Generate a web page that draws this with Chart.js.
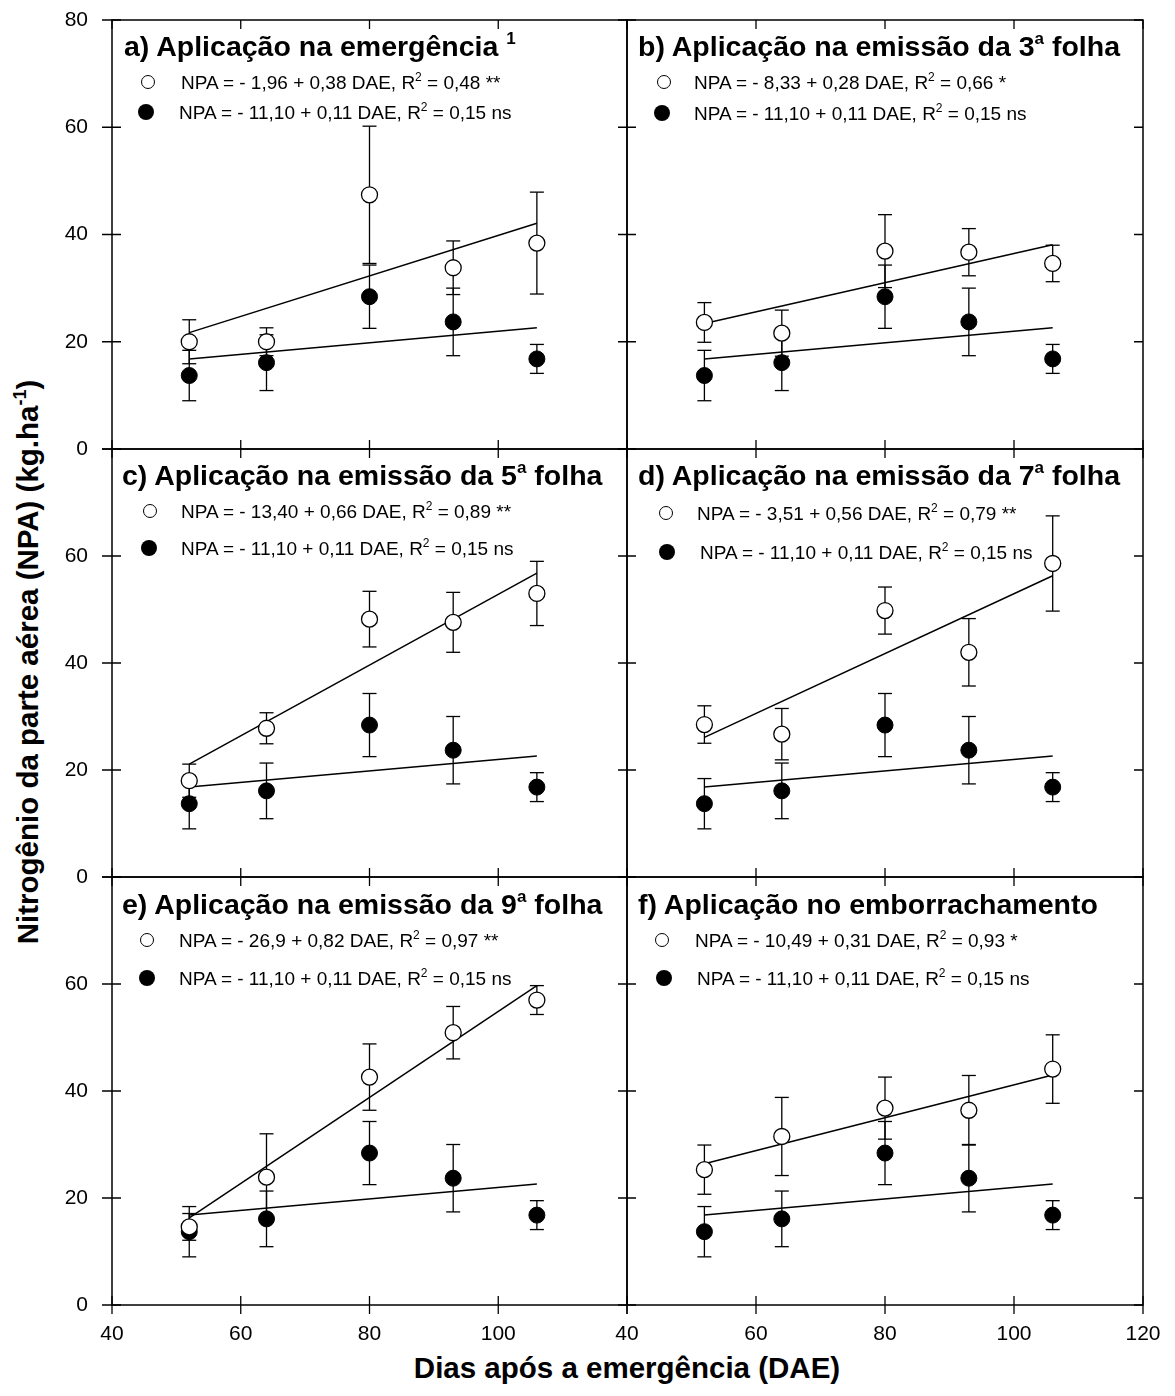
<!DOCTYPE html>
<html>
<head>
<meta charset="utf-8">
<script src="https://cdn.jsdelivr.net/npm/chart.js@4.4.1/dist/chart.umd.min.js"></script>
<style>
  body { margin: 0; background: #fff; width: 1175px; height: 1396px; position: relative; overflow: hidden;
         font-family: "Liberation Sans", Arial, sans-serif; color: #000; }
  canvas { position: absolute; }
  .t { position: absolute; white-space: nowrap; transform: translateY(-50%); line-height: 1; }
  .title { font-weight: bold; font-size: 28.5px; }
  .title sup { font-size: 17px; vertical-align: 12px; line-height: 0; }
  .leg { font-size: 19px; }
  .leg sup { font-size: 12px; vertical-align: 8px; line-height: 0; }
  .mk { position: absolute; border-radius: 50%; box-sizing: border-box; }
  .axt { position: absolute; font-weight: bold; font-size: 29.5px; white-space: nowrap; line-height: 1; }
  .axt sup { font-size: 18px; vertical-align: 12px; line-height: 0; }
</style>
</head>
<body>

<div class="axt" style="left:627px;top:1368px;transform:translate(-50%,-50%)">Dias após a emergência (DAE)</div>
<div class="axt" style="left:28px;top:662px;transform:translate(-50%,-50%) rotate(-90deg)">Nitrogênio da parte aérea (NPA) (kg.ha<sup>-1</sup>)</div>

<script>
// DAE of the five samplings
const dae = [52, 64, 80, 93, 106];
const fitX = [52, 106];

// filled circles: same control series in every panel
const npaBlack = [13.7, 16.1, 28.4, 23.7, 16.8];
const errBlack = [4.7, 5.2, 5.9, 6.3, 2.7];
const fitBlack = [16.8, 22.6];

// open circles, one set per panel
const npaA = [20.0, 20.0, 47.4, 33.8, 38.4];
const errA = [4.1, 2.6, 12.8, 5.0, 9.5];
const fitA = [21.7, 42.1];

const npaB = [23.6, 21.6, 36.9, 36.7, 34.6];
const errB = [3.7, 4.3, 6.8, 4.4, 3.4];
const fitB = [23.4, 38.1];

const npaC = [18.0, 27.8, 48.2, 47.6, 53.0];
const errC = [3.1, 2.9, 5.2, 5.6, 6.0];
const fitC = [21.1, 56.8];

const npaD = [28.5, 26.7, 49.8, 42.0, 58.6];
const errD = [3.5, 4.8, 4.4, 6.3, 8.9];
const fitD = [26.1, 56.3];

const npaE = [14.6, 23.9, 42.6, 50.9, 57.0];
const errE = [2.5, 8.1, 6.2, 4.9, 2.7];
const fitE = [16.3, 59.7];

const npaF = [25.3, 31.5, 36.8, 36.4, 44.1];
const errF = [4.6, 7.3, 5.8, 6.5, 6.4];
const fitF = [26.4, 43.0];

const xTicks = [40, 60, 80, 100, 120];
const yTicks = [0, 20, 40, 60, 80];

const titles = [
  'a) Aplicação na emergência <sup>1</sup>',
  'b) Aplicação na emissão da 3<sup>a</sup> folha',
  'c) Aplicação na emissão da 5<sup>a</sup> folha',
  'd) Aplicação na emissão da 7<sup>a</sup> folha',
  'e) Aplicação na emissão da 9<sup>a</sup> folha',
  'f) Aplicação no emborrachamento',
];
const eqOpen = [
  'NPA = - 1,96 + 0,38 DAE, R<sup>2</sup> = 0,48 **',
  'NPA = - 8,33 + 0,28 DAE, R<sup>2</sup> = 0,66 *',
  'NPA = - 13,40 + 0,66 DAE, R<sup>2</sup> = 0,89 **',
  'NPA = - 3,51 + 0,56 DAE, R<sup>2</sup> = 0,79 **',
  'NPA = - 26,9 + 0,82 DAE, R<sup>2</sup> = 0,97 **',
  'NPA = - 10,49 + 0,31 DAE, R<sup>2</sup> = 0,93 *',
];
const eqBlack = 'NPA = - 11,10 + 0,11 DAE, R<sup>2</sup> = 0,15 ns';

const panels = [
  { open: npaA, err: errA, fit: fitA, L: 112, T: 20,  R: 627,  B: 449,  tx: 124, ty: 46,  lg: [148, 82, 181, 146, 112, 179] },
  { open: npaB, err: errB, fit: fitB, L: 627, T: 20,  R: 1143, B: 449,  tx: 638, ty: 46,  lg: [664, 82, 694, 662, 113, 694] },
  { open: npaC, err: errC, fit: fitC, L: 112, T: 449, R: 627,  B: 877,  tx: 122, ty: 475, lg: [150, 511, 181, 149, 548, 181] },
  { open: npaD, err: errD, fit: fitD, L: 627, T: 449, R: 1143, B: 877,  tx: 638, ty: 475, lg: [666, 513, 697, 667, 552, 700] },
  { open: npaE, err: errE, fit: fitE, L: 112, T: 877, R: 627,  B: 1305, tx: 122, ty: 904, lg: [147, 940, 179, 147, 978, 179] },
  { open: npaF, err: errF, fit: fitF, L: 627, T: 877, R: 1143, B: 1305, tx: 638, ty: 904, lg: [662, 940, 695, 664, 978, 697] },
];

// box with ticks on every side, using the chart's own scales
const frame = {
  id: 'frame',
  afterDraw(chart, args, opts) {
    const { ctx, chartArea: a, scales: { x, y } } = chart;
    ctx.save();
    ctx.strokeStyle = '#000';
    ctx.lineWidth = 1.5;
    ctx.strokeRect(a.left, a.top, a.right - a.left, a.bottom - a.top);
    ctx.lineWidth = 1.3;
    ctx.beginPath();
    x.ticks.forEach((t) => {
      const px = x.getPixelForValue(t.value);
      ctx.moveTo(px, a.top); ctx.lineTo(px, a.top + 9);
      ctx.moveTo(px, a.bottom - 9); ctx.lineTo(px, a.bottom + (opts.outX ? 9 : 0));
    });
    y.ticks.forEach((t) => {
      const py = y.getPixelForValue(t.value);
      ctx.moveTo(a.left - (opts.outY ? 10 : 0), py); ctx.lineTo(a.left + 9, py);
      ctx.moveTo(a.right - 9, py); ctx.lineTo(a.right, py);
    });
    ctx.stroke();
    ctx.restore();
  },
};

function errorBars(ys, errs) {
  const pts = [];
  dae.forEach((x, i) => {
    pts.push({ x, y: ys[i] - errs[i] }, { x, y: ys[i] + errs[i] }, { x, y: null });
  });
  return pts;
}
const pts = (ys) => dae.map((x, i) => ({ x, y: ys[i] }));
const fitPts = (ys) => fitX.map((x, i) => ({ x, y: ys[i] }));

const tickFont = { family: '"Liberation Sans", Arial, sans-serif', size: 21 };

panels.forEach((p, idx) => {
  const leftCol = idx % 2 === 0;
  const bottomRow = idx >= 4;
  const topRow = idx < 2;

  const cv = document.createElement('canvas');
  const w = (p.R - p.L) + 100, h = (p.B - p.T) + 70;
  cv.width = w; cv.height = h;
  cv.style.left = (p.L - 70) + 'px';
  cv.style.top = (p.T - 20) + 'px';
  cv.style.width = w + 'px';
  cv.style.height = h + 'px';
  document.body.appendChild(cv);

  const bar = {
    type: 'line', showLine: true, spanGaps: false,
    borderColor: '#000', borderWidth: 1.3,
    pointStyle: 'line', pointRadius: 7, pointBorderColor: '#000', pointBorderWidth: 1.3,
    order: 3,
  };

  new Chart(cv, {
    type: 'scatter',
    data: {
      datasets: [
        { ...bar, label: 'err black', data: errorBars(npaBlack, errBlack) },
        { ...bar, label: 'err open', data: errorBars(p.open, p.err) },
        { label: 'fit black', data: fitPts(fitBlack), showLine: true, borderColor: '#000', borderWidth: 1.5, pointRadius: 0, order: 2 },
        { label: 'fit open', data: fitPts(p.fit), showLine: true, borderColor: '#000', borderWidth: 1.5, pointRadius: 0, order: 2 },
        { label: 'black', data: pts(npaBlack), pointRadius: 8, backgroundColor: '#000', borderColor: '#000', borderWidth: 1, order: 1 },
        { label: 'open', data: pts(p.open), pointRadius: 8, backgroundColor: '#fff', borderColor: '#000', borderWidth: 1.3, order: 0 },
      ],
    },
    options: {
      responsive: false,
      animation: false,
      events: [],
      layout: { padding: { top: 20, right: 30, left: 0, bottom: 0 } },
      plugins: { legend: { display: false }, tooltip: { enabled: false }, frame: { outX: bottomRow, outY: leftCol } },
      scales: {
        x: {
          type: 'linear', min: 40, max: 120,
          // tick marks come from the frame plugin; tickLength only spaces the labels
          grid: { display: false, drawTicks: true, tickLength: 17 }, border: { display: false },
          afterBuildTicks: (s) => { s.ticks = xTicks.map((v) => ({ value: v })); },
          ticks: {
            display: bottomRow, autoSkip: false, maxRotation: 0, padding: 0,
            color: '#000', font: tickFont,
            callback: (v) => (leftCol && v === 120 ? '' : v),
          },
          afterFit: (s) => { s.height = 50; },
        },
        y: {
          type: 'linear', min: 0, max: 80,
          grid: { display: false, drawTicks: true, tickLength: 24 }, border: { display: false },
          afterBuildTicks: (s) => { s.ticks = yTicks.map((v) => ({ value: v })); },
          ticks: {
            display: leftCol, autoSkip: false, padding: 0,
            color: '#000', font: tickFont,
            callback: (v) => (!topRow && v === 80 ? '' : v),
          },
          afterFit: (s) => { s.width = 70; },
        },
      },
    },
    plugins: [frame],
  });

  // panel title and regression legend
  const [ox, oy, otx, bx, by, btx] = p.lg;
  const html =
    `<div class="t title" style="left:${p.tx}px;top:${p.ty}px">${titles[idx]}</div>` +
    `<div class="mk" style="left:${ox - 7}px;top:${oy - 7}px;width:14px;height:14px;border:1.4px solid #000;background:#fff"></div>` +
    `<div class="t leg" style="left:${otx}px;top:${oy}px">${eqOpen[idx]}</div>` +
    `<div class="mk" style="left:${bx - 8}px;top:${by - 8}px;width:16px;height:16px;background:#000"></div>` +
    `<div class="t leg" style="left:${btx}px;top:${by}px">${eqBlack}</div>`;
  document.body.insertAdjacentHTML('beforeend', html);
});
</script>
</body>
</html>
